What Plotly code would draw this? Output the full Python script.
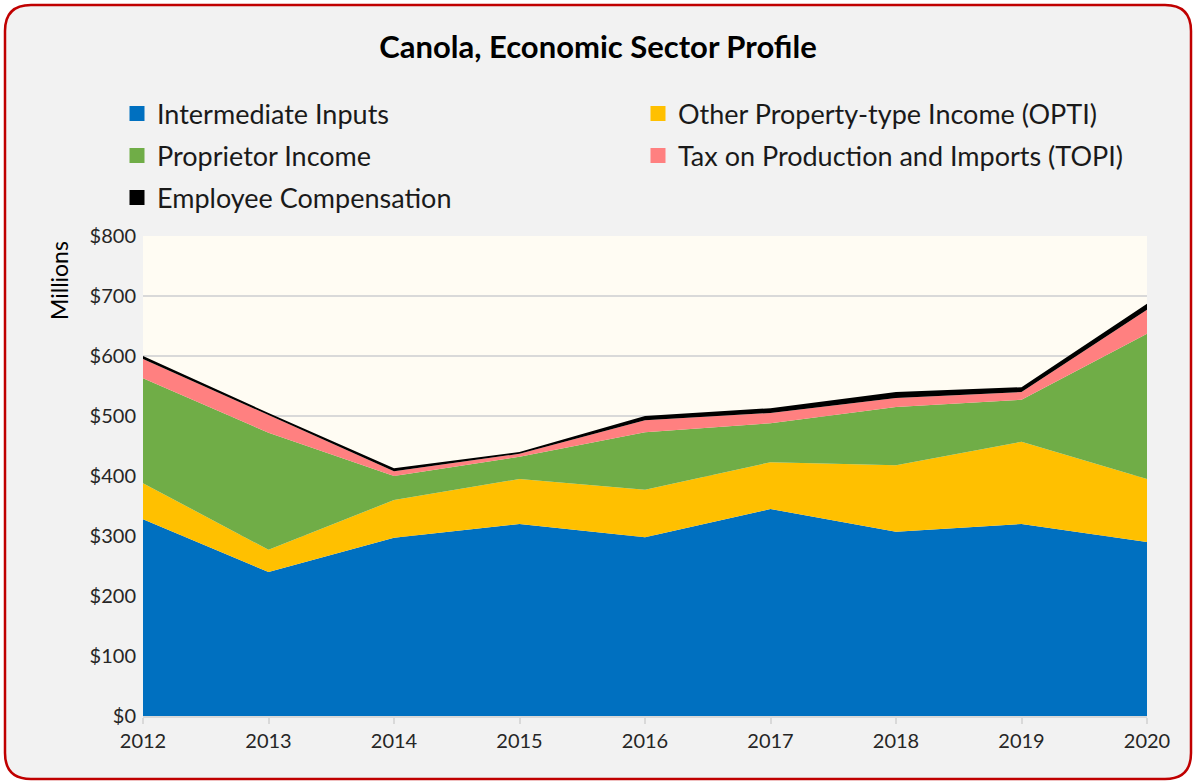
import plotly.graph_objects as go

years = [2012, 2013, 2014, 2015, 2016, 2017, 2018, 2019, 2020]
intermediate_inputs = [328, 240, 297, 320, 298, 345, 307, 320, 290]
opti = [60, 37, 63, 75, 79, 78, 111, 137, 105]
proprietor_income = [175, 195, 40, 37, 96, 65, 97, 70, 242]
topi = [32, 30, 8, 5, 20, 17, 15, 13, 40]
employee_comp = [5, 3, 5, 3, 7, 8, 10, 8, 10]

series = [
    ("Intermediate Inputs", intermediate_inputs, "#0070C0"),
    ("Other Property-type Income (OPTI)", opti, "#FFC000"),
    ("Proprietor Income", proprietor_income, "#70AD47"),
    ("Tax on Production and Imports (TOPI)", topi, "#FF8080"),
    ("Employee Compensation", employee_comp, "#000000"),
]

FONT = "Lato"
W, H = 1196, 783
L, R, T, B = 143, 1147, 236, 716

def px(x):
    return (x - L) / (R - L)

def py(y):
    return (B - y) / (B - T)

# legend slot positions (marker centre x, row centre y), pixels
legend_slots = [(137, 114), (658, 114), (137, 156), (658, 156), (137, 198)]
legend_ids = ["legend", "legend2", "legend3", "legend4", "legend5"]

fig = go.Figure()
for name, vals, col in series:
    fig.add_trace(go.Scatter(x=years, y=vals, name=name, stackgroup="one",
                             mode="lines", line=dict(width=0, color=col),
                             fillcolor=col, showlegend=False, hoverinfo="x+y+name"))
for (name, vals, col), lid in zip(series, legend_ids):
    fig.add_trace(go.Scatter(x=[None], y=[None], name=name, mode="markers",
                             marker=dict(symbol="square", size=15, color=col),
                             showlegend=True, legend=lid))

# rounded outer frame
x0, x1, y0, y1, r = 5, 1191, 5, 779, 26
pts = [
    f"M {px(x0 + r)} {py(y0)}",
    f"L {px(x1 - r)} {py(y0)}",
    f"Q {px(x1)} {py(y0)} {px(x1)} {py(y0 + r)}",
    f"L {px(x1)} {py(y1 - r)}",
    f"Q {px(x1)} {py(y1)} {px(x1 - r)} {py(y1)}",
    f"L {px(x0 + r)} {py(y1)}",
    f"Q {px(x0)} {py(y1)} {px(x0)} {py(y1 - r)}",
    f"L {px(x0)} {py(y0 + r)}",
    f"Q {px(x0)} {py(y0)} {px(x0 + r)} {py(y0)}",
    "Z",
]
fig.add_shape(type="path", path=" ".join(pts), xref="paper", yref="paper",
              fillcolor="#F2F2F2", line=dict(color="#C00000", width=2.5), layer="below")
# plot area background
fig.add_shape(type="rect", xref="paper", yref="paper", x0=0, x1=1, y0=0, y1=1,
              fillcolor="#FFFCF3", line=dict(width=0), layer="below")

fig.add_annotation(text="Millions", textangle=-90, xref="paper", yref="paper",
                   x=px(59), y=py(281), xanchor="center", yanchor="middle", showarrow=False,
                   font=dict(family=FONT, size=23, color="#000000"))

legend_layout = {}
for (cx, cy), lid in zip(legend_slots, legend_ids):
    legend_layout[lid] = dict(x=px(cx - 20), y=py(cy), xanchor="left", yanchor="middle",
                              orientation="v", bgcolor="rgba(0,0,0,0)",
                              font=dict(family=FONT, size=27, color="#1A1A1A"))

fig.update_layout(
    width=W, height=H,
    margin=dict(l=L, r=W - R, t=T, b=H - B),
    paper_bgcolor="white",
    plot_bgcolor="rgba(0,0,0,0)",
    font=dict(family=FONT, size=20, color="#262626"),
    title=dict(text="<b>Canola, Economic Sector Profile</b>", x=0.5, xref="container",
               xanchor="center", y=1 - 47 / H, yref="container", yanchor="middle",
               font=dict(family=FONT, size=31, color="#000000")),
    xaxis=dict(range=[2012, 2020], tickvals=years, ticktext=[str(y) for y in years],
               showgrid=False, showline=True, linecolor="#D9D9D9", linewidth=1.5,
               ticks="outside", ticklen=6, tickcolor="#D9D9D9", tickwidth=1.5,
               tickfont=dict(family=FONT, size=20, color="#262626"), zeroline=False),
    yaxis=dict(range=[0, 800], dtick=100, tickprefix="$", showgrid=True,
               gridcolor="#D9D9D9", gridwidth=1.5, zeroline=False, showline=False,
               tickfont=dict(family=FONT, size=20, color="#262626"), ticklabelstandoff=6),
    **legend_layout,
)

fig.write_html("out.html", config={"displayModeBar": False},
               post_script="document.body.style.margin='0px';")
